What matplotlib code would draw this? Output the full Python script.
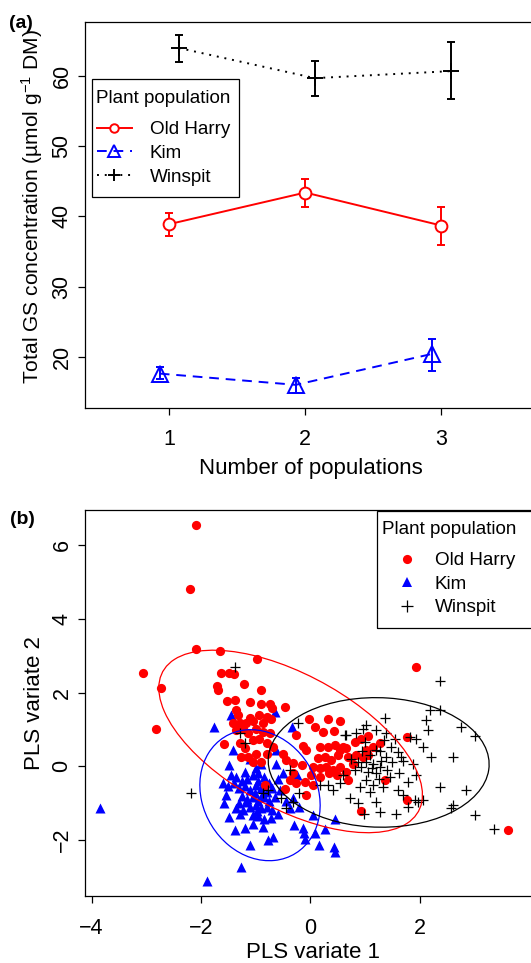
import numpy as np
import matplotlib
matplotlib.use("Agg")
import matplotlib.pyplot as plt
from matplotlib.lines import Line2D
from matplotlib.patches import Ellipse, Rectangle

plt.rcParams['font.family'] = ['Liberation Sans', 'DejaVu Sans']
plt.rcParams['mathtext.fontset'] = 'custom'
plt.rcParams['mathtext.rm'] = 'Liberation Sans'
plt.rcParams['mathtext.it'] = 'Liberation Sans:italic'
plt.rcParams['mathtext.bf'] = 'Liberation Sans:bold'

# ---------------- Panel (a) data ----------------
n_populations = [1, 2, 3]
series_names = ["Old Harry", "Kim", "Winspit"]
old_harry_mean = [38.9, 43.4, 38.7]
old_harry_lo = [37.2, 41.3, 35.9]
old_harry_hi = [40.5, 45.4, 41.3]
kim_mean = [17.6, 16.0, 20.4]
kim_lo = [16.8, 14.8, 18.0]
kim_hi = [18.6, 17.0, 22.6]
winspit_mean = [64.0, 59.7, 60.7]
winspit_lo = [62.0, 57.2, 56.7]
winspit_hi = [65.8, 62.2, 64.9]
yticks_a = [20, 30, 40, 50, 60]

# ---------------- Panel (b) data ----------------
oh_x = [-2.09, -2.20, -2.09, -1.66, -0.97, -3.06, -2.73, -2.82, 1.94, 3.62,
        -1.63, -1.49, -1.40, -1.70, -1.69, -1.21, -0.91, -1.52, -1.37, -1.10,
        -0.90, -0.74, -0.70, -0.46, -1.35, -1.32, -1.11, -0.93, -0.80, -1.41,
        -1.29, -1.17, -1.05, -0.87, -0.71,
        -1.35, -1.23, -1.14, -0.99, -0.87, -0.74, -1.29, -1.20, -1.05, -0.93,
        -0.80, -0.68, -1.14, -0.99, -0.80, -1.26, -1.58, -0.82, -0.90, -1.05,
        -0.02, 0.32, 0.55, 0.08, 0.24, 0.43, -0.27, -0.13, -0.07, -0.50,
        -0.44, -0.32, -0.15, 0.32, 0.45, 0.54, 0.66,
        0.14, 0.26, 0.38, 0.51, 0.69, 0.05, 0.17, 0.29, 0.41, 0.54,
        0.02, 0.17, 0.35, 0.48, 0.66, -0.38, -0.26, -0.10, 0.05,
        -0.07, -0.47, 0.69, 0.81, 0.93, 1.05, 0.84, 1.02, 1.05,
        1.27, 1.36, 1.77, 1.76, 0.93, -0.32, 0.60, 0.17, 0.78, 0.96, 1.15]
oh_y = [6.55, 4.80, 3.17, 3.14, 2.90, 2.54, 2.12, 1.01, 2.70, -1.74,
        2.52, 2.52, 2.50, 2.18, 2.08, 2.23, 2.06, 1.76, 1.79, 1.75,
        1.70, 1.70, 1.59, 1.60, 1.52, 1.39, 1.32, 1.39, 1.34, 1.16,
        1.18, 1.16, 1.23, 1.16, 1.27,
        0.98, 1.00, 0.89, 1.00, 0.93, 0.89, 0.62, 0.48, 0.71, 0.75,
        0.62, 0.53, 0.25, 0.34, 0.34, 0.25, 0.60, -0.52, 0.12, 0.12,
        1.27, 1.29, 1.22, 1.07, 0.92, 0.96, 0.84, 0.55, 0.43, 0.34,
        0.16, 0.09, 0.03, 0.53, 0.57, 0.43, 0.48,
        0.21, 0.25, 0.16, 0.30, 0.25, -0.02, -0.06, -0.02, -0.11, -0.02,
        -0.24, -0.29, -0.20, -0.24, -0.15, -0.38, -0.47, -0.43, -0.52,
        -0.79, -0.61, -0.38, 0.66, 0.75, 0.82, 0.30, 0.43, 0.30,
        0.62, -0.38, 0.78, -0.92, -1.22, -0.20, 0.53, 0.53, 0.07, 0.25, 0.53]

kim_x = [-3.84, -1.89, -1.26, -1.76, -1.45, -0.65, -0.34,
         -1.41, -1.48, -1.60, -1.54, -1.57,
         0.46, 0.43, 0.45, 0.16, 0.26, 0.08, 0.05, -0.13, -0.10, -0.12,
         -0.29, -0.38, -0.32, -0.50, -0.62, -0.62,
         -1.38, -1.11, -0.77, -0.68, -1.20, -0.87, -1.05, -1.48, -1.29, -1.23, -1.05,
         -1.35, -1.25, -1.15, -1.05, -0.95, -0.85, -0.75, -1.30, -1.20, -1.10,
         -1.00, -0.90, -0.80, -0.70, -1.40, -1.25, -1.15, -1.05, -0.95, -0.85,
         -0.75, -0.65, -1.30, -1.10, -1.00, -0.90, -0.80, -0.70, -1.00, -0.90,
         -1.20, -0.60, -0.55, -0.45, -1.45, -1.50, -1.35, -0.95, -0.85, -0.60,
         -0.20, -0.25, -1.10, -0.95, -1.02, -0.88, -1.18, -0.98, -0.72]
kim_y = [-1.15, -3.13, -2.74, 1.07, 1.39, 1.48, 1.07,
         0.43, 0.03, -0.47, -0.79, -1.01,
         -1.45, -2.19, -2.33, -2.15, -1.72, -1.83, -1.33, -1.69, -1.97, -1.83,
         -1.60, -1.15, -0.88, -0.20, 0.07, 0.43,
         -1.74, -2.15, -2.01, -1.92, -1.69, -1.65, -1.56, -1.38, -1.29, -1.20, -1.33,
         -0.30, -0.40, -0.35, -0.25, -0.20, -0.30, -0.45, -0.60, -0.55, -0.65,
         -0.50, -0.60, -0.70, -0.60, -0.45, -0.80, -0.90, -0.85, -0.95, -0.85,
         -0.95, -0.85, -1.00, -1.10, -1.05, -1.15, -1.10, -1.20, -0.05, 0.05,
         -0.15, -0.35, -0.65, -0.95, -0.25, -0.55, -1.15, -1.35, -1.45, -1.30,
         -1.10, -0.25, 0.20, -0.40, -0.72, -0.78, -0.98, -1.22, -1.40]

win_x = [-2.18, -1.37, 2.37, 2.18, 2.37, 2.76, 3.01, 2.61, 2.85, 2.38, 2.58, 2.61, 3.02, 3.35,
         2.12, 2.15, 2.06, 2.21, 1.94, 1.91, 1.97, 1.60, 1.70, 1.57, 1.27, 0.99, 1.21, 0.87,
         0.72, 0.41, 0.54, 0.17, 0.81, 0.93, 1.02, 1.15, 1.27, 1.21, 1.02, 0.90, 1.09, 1.33,
         1.39, 1.48, 1.39, 1.36, 1.21, 1.02, 0.96, 0.84, 0.66, 1.60, 1.66, 1.82, 1.94, 1.88,
         1.79, 2.06, 1.79, -0.23, 0.63, 0.32, -0.53, -0.32, -0.44,
         -1.29, -1.20, -0.38, -0.20, -0.87, -0.77,
         1.10, 1.20, 1.30, 1.40, 1.25, 1.05, 0.95, 1.15, 1.35, 1.50, 1.45, 1.00, 0.75,
         0.60, 1.55, 1.70, 1.62, 1.28, 1.12, 0.88]
win_y = [-0.72, 2.70, 2.30, 1.52, 1.52, 1.07, 0.82, 0.25, -0.65, -0.56, -1.15, -1.06, -1.33, -1.71,
         1.25, 0.98, 0.53, 0.25, -0.24, -0.92, -0.97, -0.65, -0.79, -1.29, -1.24, -1.29, -0.97, -1.00,
         -0.88, -0.65, -0.47, -0.52, -0.11, -0.02, 0.12, 0.07, -0.02, -0.20, -0.38, -0.56, -0.70, -0.56,
         0.25, 0.53, 0.89, 1.30, 0.98, 1.11, 1.02, 0.89, 0.84, 0.39, 0.25, 0.80, 0.75, 0.07,
         -0.43, -0.92, -1.11, 1.16, 0.84, -0.52, -0.88, -0.97, -1.15,
         0.89, 0.62, -0.11, -0.74, -0.74, -0.65,
         0.30, 0.45, 0.15, -0.10, -0.35, -0.15, 0.40, -0.50, 0.70, 0.10, -0.30, 0.65, 0.20,
         -0.25, 0.75, 0.15, -0.20, 0.40, -0.05, 0.10]

# ellipses: centre and covariance-like shape (Sxx, Syy, Sxy) in data units
ell_names = ["Old Harry", "Kim", "Winspit"]
ell_cx = [-0.36, -0.92, 1.25]
ell_cy = [0.67, -0.79, 0.10]
ell_sxx = [5.81, 1.21, 4.08]
ell_syy = [6.15, 3.17, 3.10]
ell_sxy = [-3.50, -0.30, -0.10]

W, H = 531, 963
fig = plt.figure(figsize=(W / 100, H / 100), dpi=100)


def fx(px):
    return px / W


def fy(py):
    return 1 - py / H


FS = 15.5
LFS = 13.6
spine_lw = 0.9

# ---------------- Panel (a) ----------------
axa = fig.add_axes([fx(85), fy(408), fx(536.5) - fx(85), fy(22) - fy(408)])
dodge = {"Old Harry": 0.0, "Kim": -0.07, "Winspit": 0.07}
styles = {
    "Old Harry": dict(color='#ff0000', marker='o', ls='-', ms=8.5, mfc='white'),
    "Kim": dict(color='#0000ff', marker='^', ls=(0, (5, 3.5)), ms=11.5, mfc='none'),
    "Winspit": dict(color='black', marker='+', ls=(0, (1, 3)), ms=12, mfc='none'),
}
means = {"Old Harry": old_harry_mean, "Kim": kim_mean, "Winspit": winspit_mean}
los = {"Old Harry": old_harry_lo, "Kim": kim_lo, "Winspit": winspit_lo}
his = {"Old Harry": old_harry_hi, "Kim": kim_hi, "Winspit": winspit_hi}
handles_a = []
for name in series_names:
    st = styles[name]
    xs = np.array(n_populations, dtype=float) + dodge[name]
    m = np.array(means[name])
    lo = np.array(los[name])
    hi = np.array(his[name])
    axa.errorbar(xs, m, yerr=[m - lo, hi - m], fmt='none', ecolor=st['color'],
                 elinewidth=1.4, capsize=3.2, capthick=1.4, zorder=2)
    axa.plot(xs, m, color=st['color'], ls=st['ls'], lw=1.4, zorder=3)
    axa.plot(xs, m, color=st['color'], ls='none', marker=st['marker'], ms=st['ms'],
             mfc=st['mfc'], mec=st['color'], mew=1.4, zorder=4)
    handles_a.append(Line2D([], [], color=st['color'], ls=st['ls'], lw=1.4,
                            marker=st['marker'], ms=st['ms'] * 0.72,
                            mfc=st['mfc'], mec=st['color'], mew=1.4))

axa.set_xlim(0.38, 3.7)
axa.set_ylim(12.7, 67.7)
axa.set_xticks(n_populations)
axa.set_xticklabels([str(v) for v in n_populations], fontsize=FS)
axa.set_yticks(yticks_a)
axa.set_yticklabels([str(v) for v in yticks_a], fontsize=FS, rotation=90, va='center')
axa.tick_params(axis='x', length=5, width=spine_lw, pad=10.0)
axa.tick_params(axis='y', length=5, width=spine_lw, pad=4)
for s in axa.spines.values():
    s.set_linewidth(spine_lw)
axa.set_xlabel("Number of populations", fontsize=FS + 0.5, labelpad=6.0)
axa.set_ylabel("Total GS concentration (µmol g$^{-1}$ DM)", fontsize=15.1, labelpad=5)
axa.yaxis.label.set_y(0.523)

# legend (a): frame, title and entries placed separately
fig.add_artist(Rectangle((fx(92), fy(197)), fx(239) - fx(92), fy(79) - fy(197),
                         transform=fig.transFigure, fill=False, edgecolor='black',
                         lw=spine_lw, zorder=5))
fig.text(fx(96), fy(98), "Plant population", fontsize=LFS, ha='left', va='center')
leg_a = axa.legend(handles_a, series_names, loc='upper left',
                   bbox_to_anchor=(fx(97), fy(121)), bbox_transform=fig.transFigure,
                   fontsize=LFS, frameon=False, borderpad=0, handlelength=1.85,
                   handletextpad=0.95, labelspacing=0.35, borderaxespad=0)
fig.text(fx(21), fy(23), "(a)", fontsize=14, fontweight='bold', ha='center', va='center')

# ---------------- Panel (b) ----------------
axb = fig.add_axes([fx(85), fy(896), fx(540) - fx(85), fy(510) - fy(896)])
axb.scatter(kim_x, kim_y, marker='^', s=52, color='#0000ff', linewidths=0, zorder=2)
axb.scatter(oh_x, oh_y, marker='o', s=44, color='#ff0000', linewidths=0, zorder=3)
axb.scatter(win_x, win_y, marker='+', s=60, color='black', linewidths=0.9, zorder=4)
ell_colors = {"Old Harry": '#ff0000', "Kim": '#0000ff', "Winspit": 'black'}
for i, name in enumerate(ell_names):
    cov = np.array([[ell_sxx[i], ell_sxy[i]], [ell_sxy[i], ell_syy[i]]])
    vals, vecs = np.linalg.eigh(cov)
    ang = np.degrees(np.arctan2(vecs[1, 1], vecs[0, 1]))
    e = Ellipse((ell_cx[i], ell_cy[i]), 2 * np.sqrt(vals[1]), 2 * np.sqrt(vals[0]),
                angle=ang, fill=False, edgecolor=ell_colors[name], lw=0.9, zorder=5)
    axb.add_patch(e)

axb.set_xlim(-4.12, 4.2)
axb.set_ylim(-3.53, 6.96)
xt_b = [-4, -2, 0, 2]
yt_b = [-2, 0, 2, 4, 6]
axb.set_xticks(xt_b)
axb.set_xticklabels([f"{v}".replace('-', '\u2212') for v in xt_b], fontsize=FS)
axb.set_yticks(yt_b)
axb.set_yticklabels([f"{v}".replace('-', '\u2212') for v in yt_b], fontsize=FS,
                    rotation=90, va='center')
axb.tick_params(axis='x', length=5, width=spine_lw, pad=10.5)
axb.tick_params(axis='y', length=5, width=spine_lw, pad=4)
for s in axb.spines.values():
    s.set_linewidth(spine_lw)
axb.set_xlabel("PLS variate 1", fontsize=FS + 0.5, labelpad=2.5)
axb.set_ylabel("PLS variate 2", fontsize=FS + 0.5, labelpad=5)

handles_b = [
    Line2D([], [], ls='none', marker='o', ms=6.6, color='#ff0000', mew=0),
    Line2D([], [], ls='none', marker='^', ms=7.0, color='#0000ff', mew=0),
    Line2D([], [], ls='none', marker='+', ms=8.0, color='black', mew=0.9),
]
fig.add_artist(Rectangle((fx(376.7), fy(627.7)), fx(560) - fx(376.7), fy(510.7) - fy(627.7),
                         transform=fig.transFigure, fill=False, edgecolor='black',
                         lw=spine_lw, zorder=5))
fig.text(fx(381.7), fy(529), "Plant population", fontsize=LFS, ha='left', va='center')
leg_b = axb.legend(handles_b, series_names, loc='upper left',
                   bbox_to_anchor=(fx(390), fy(552)), bbox_transform=fig.transFigure,
                   fontsize=LFS, frameon=False, borderpad=0, handlelength=1.77,
                   handletextpad=0.61, labelspacing=0.33, borderaxespad=0)
fig.text(fx(22), fy(519), "(b)", fontsize=14, fontweight='bold', ha='center', va='center')

fig.savefig("out.png", dpi=100)
